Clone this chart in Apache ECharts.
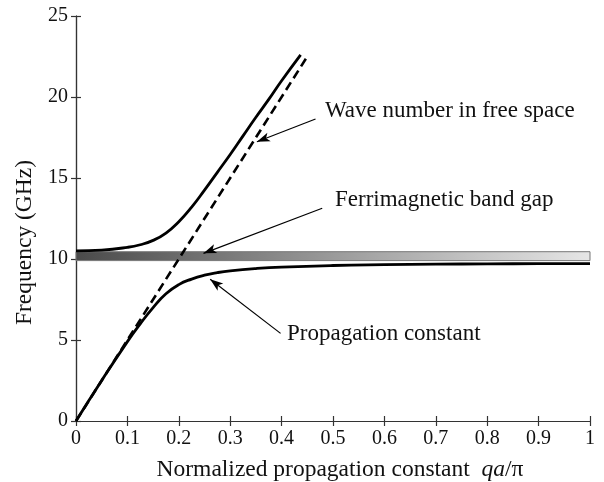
<!DOCTYPE html>
<html>
<head>
<meta charset="utf-8">
<script src="https://cdn.jsdelivr.net/npm/echarts@6/dist/echarts.min.js"></script>
<style>html,body{margin:0;padding:0;background:#fff}#c{width:604px;height:482px}</style>
</head>
<body>
<div id="c"></div>
<script>
// Lower branch (propagation constant)
var lowerQ = [0, 0.05, 0.1, 0.125, 0.15, 0.175, 0.2, 0.225, 0.25, 0.275, 0.3, 0.35, 0.4, 0.5, 0.6, 0.7, 0.8, 0.9, 1.0];
var lowerF = [0, 2.5, 4.9, 6.0, 7.0, 7.85, 8.42, 8.76, 9.0, 9.16, 9.27, 9.41, 9.5, 9.6, 9.65, 9.68, 9.7, 9.71, 9.72];
// Upper branch
var upperQ = [0, 0.05, 0.1, 0.125, 0.15, 0.175, 0.2, 0.225, 0.25, 0.275, 0.3, 0.325, 0.35, 0.375, 0.4, 0.437];
var upperF = [10.5, 10.55, 10.72, 10.88, 11.15, 11.6, 12.3, 13.2, 14.25, 15.35, 16.45, 17.6, 18.75, 19.85, 21.0, 22.6];
// Free-space wave number (light line)
var lightQ = [0, 0.45];
var lightF = [0, 22.5];
// Ferrimagnetic band gap
var gapQ = [0, 1];
var gapF = [9.9, 10.45];
// Annotation arrows: [fromQ, fromF, toQ, toF]
var arrows = [
  [0.466, 18.64, 0.352, 17.24],
  [0.479, 13.13, 0.248, 10.35],
  [0.398, 5.41, 0.261, 8.75]
];
var annotations = ['Wave number in free space', 'Ferrimagnetic band gap', 'Propagation constant'];
var xTicks = {min: 0, max: 1, interval: 0.1};
var yTicks = {min: 0, max: 25, interval: 5};

function pairs(a, b) { return a.map(function (v, i) { return [v, b[i]]; }); }

var font = '"Liberation Serif", "Times New Roman", serif';
var chart = echarts.init(document.getElementById('c'), null, {renderer: 'canvas'});
var axisLine = {show: true, lineStyle: {color: '#333', width: 1.2}};
var tick = {show: true, inside: true, length: 5, lineStyle: {color: '#333', width: 1.2}};

chart.setOption({
  animation: false,
  grid: {left: 76, right: 14, top: 16, bottom: 61, containLabel: false, outerBoundsMode: 'none'},
  xAxis: [{
    type: 'value', min: xTicks.min, max: xTicks.max, interval: xTicks.interval,
    axisLine: axisLine, axisTick: tick, splitLine: {show: false},
    axisLabel: {fontFamily: font, fontSize: 20, color: '#111', margin: 8,
      formatter: function (v) { return v === 0 ? '0' : (v === 1 ? '1' : v.toFixed(1)); }},
    name: '{n|Normalized propagation constant  }{i|qa}{n|/π}',
    nameLocation: 'middle', nameGap: 37,
    nameTextStyle: {padding: [0, 0, 0, 14], rich: {
      n: {fontFamily: font, fontSize: 23.5, color: '#111'},
      i: {fontFamily: font, fontSize: 23.5, fontStyle: 'italic', color: '#111'}
    }}
  }, {
    type: 'value', position: 'top', min: xTicks.min, max: xTicks.max, interval: xTicks.interval,
    axisLine: axisLine, axisTick: tick, axisLabel: {show: false}, splitLine: {show: false}
  }],
  yAxis: [{
    type: 'value', min: yTicks.min, max: yTicks.max, interval: yTicks.interval,
    axisLine: axisLine, axisTick: tick, splitLine: {show: false},
    axisLabel: {fontFamily: font, fontSize: 20, color: '#111', margin: 8},
    name: 'Frequency (GHz)', nameLocation: 'middle', nameGap: 37,
    nameTextStyle: {fontFamily: font, fontSize: 23.5, color: '#111', padding: [0, 48, 0, 0]}
  }, {
    type: 'value', position: 'right', min: yTicks.min, max: yTicks.max, interval: yTicks.interval,
    axisLine: axisLine, axisTick: tick, axisLabel: {show: false}, splitLine: {show: false}
  }],
  series: [
    {
      type: 'line', data: [], silent: true,
      markArea: {
        silent: true,
        itemStyle: {
          color: new echarts.graphic.LinearGradient(0, 0, 1, 0, [
            {offset: 0, color: '#4a4a4a'},
            {offset: 0.5, color: '#9a9a9a'},
            {offset: 1, color: '#e6e6e6'}
          ]),
          borderColor: '#777', borderWidth: 1, opacity: 1
        },
        data: [[{xAxis: gapQ[0], yAxis: gapF[0]}, {xAxis: gapQ[1], yAxis: gapF[1]}]]
      }
    },
    {
      type: 'line', data: pairs(lowerQ, lowerF), showSymbol: false, smooth: 0.5,
      lineStyle: {color: '#000', width: 2.8}, silent: true, z: 3
    },
    {
      type: 'line', data: pairs(upperQ, upperF), showSymbol: false, smooth: 0.5,
      lineStyle: {color: '#000', width: 2.8}, silent: true, z: 3
    },
    {
      type: 'line', data: pairs(lightQ, lightF), showSymbol: false,
      lineStyle: {color: '#000', width: 2.6, type: [9, 5]}, silent: true, z: 3,
      markLine: {
        silent: true, symbol: ['none', 'arrow'], symbolSize: [7, 13],
        label: {show: false},
        lineStyle: {color: '#000', width: 1.2, type: 'solid'},
        data: arrows.map(function (a) { return [{coord: [a[0], a[1]]}, {coord: [a[2], a[3]]}]; })
      }
    }
  ],
  graphic: [
    {type: 'text', left: 325, top: 99, style: {text: annotations[0], font: '23px ' + font, fill: '#111'}},
    {type: 'text', left: 335, top: 188, style: {text: annotations[1], font: '23px ' + font, fill: '#111'}},
    {type: 'text', left: 287, top: 322, style: {text: annotations[2], font: '23px ' + font, fill: '#111'}}
  ]
});
</script>
</body>
</html>
